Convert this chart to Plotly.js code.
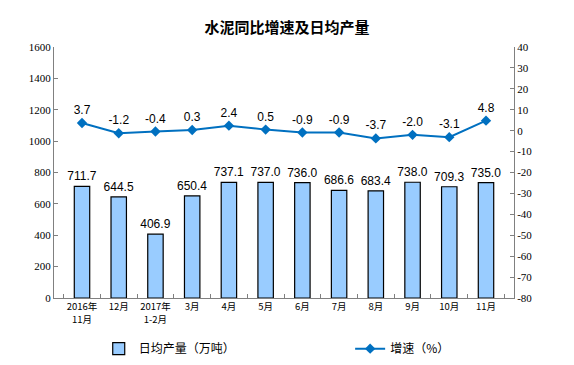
<!DOCTYPE html>
<html><head><meta charset="utf-8">
<script src="https://cdn.plot.ly/plotly-3.0.1.min.js"></script>
<style>body{margin:0;padding:0;background:#fff}#c{width:574px;height:365px}</style>
</head><body><div id="c"></div>
<script>
const categories = ["2016年<br>11月","12月","2017年<br>1-2月","3月","4月","5月","6月","7月","8月","9月","10月","11月"];
const output = [711.7,644.5,406.9,650.4,737.1,737.0,736.0,686.6,683.4,738.0,709.3,735.0];
const growth = [3.7,-1.2,-0.4,0.3,2.4,0.5,-0.9,-0.9,-3.7,-2.0,-3.1,4.8];
const leftTicks = [0,200,400,600,800,1000,1200,1400,1600];
const rightTicks = [-80,-70,-60,-50,-40,-30,-20,-10,0,10,20,30,40];

const bar = {
  type:'bar', x:categories, y:output, name:'日均产量（万吨）',
  marker:{color:'#99CCFF', line:{color:'#000', width:1.2}},
  text:output.map(v=>v.toFixed(1)), textposition:'outside', cliponaxis:false, constraintext:'none',
  textfont:{family:'Liberation Sans, Arial', size:12, color:'#000'},
  legend:'legend'
};
const line = {
  type:'scatter', mode:'lines+markers+text', x:categories, y:growth, yaxis:'y2', name:'增速（%）',
  line:{color:'#0070C0', width:2}, marker:{symbol:'diamond', size:8, color:'#0070C0'},
  text:growth.map(v=>v.toFixed(1)), textposition:'top center', cliponaxis:false,
  textfont:{family:'Liberation Sans, Arial', size:12, color:'#000'},
  legend:'legend2'
};
const tf = {family:'Liberation Serif, Times New Roman', size:11, color:'#000'};
const layout = {
  width:574, height:365, margin:{l:54, r:60, t:47, b:67, autoexpand:false},
  paper_bgcolor:'#fff', plot_bgcolor:'#fff',
  title:{text:'<b>水泥同比增速及日均产量</b>', x:0.5, xanchor:'center', y:0.925, yanchor:'middle',
    font:{family:'Noto Sans CJK SC', size:15, color:'#000'}},
  bargap:0.58,
  xaxis:{type:'category', tickangle:0, tickfont:{family:'Noto Sans CJK SC', size:9.5, color:'#000'},
    showline:true, linecolor:'#808080', linewidth:1, ticks:'inside', tickson:'boundaries', ticklen:4, tickcolor:'#808080',
    showgrid:false, automargin:false},
  yaxis:{range:[0,1600], tickvals:leftTicks, ticktext:leftTicks.map(String), ticks:'inside', ticklen:4, tickcolor:'#808080',
    showline:true, linecolor:'#808080', showgrid:false, zeroline:false, automargin:false, tickfont:tf},
  yaxis2:{range:[-80,40], tickvals:rightTicks, ticktext:rightTicks.map(String), overlaying:'y', side:'right', ticks:'inside', ticklen:4, tickcolor:'#808080',
    showline:true, linecolor:'#808080', showgrid:false, zeroline:false, automargin:false, tickfont:tf},
  legend:{x:0.172, xref:'container', y:0.005, yref:'container', xanchor:'left', yanchor:'bottom', orientation:'h', bgcolor:'rgba(0,0,0,0)',
    font:{family:'Noto Sans CJK SC', size:12, color:'#000'}},
  legend2:{x:0.61, xref:'container', y:0.005, yref:'container', xanchor:'left', yanchor:'bottom', orientation:'h', bgcolor:'rgba(0,0,0,0)',
    font:{family:'Noto Sans CJK SC', size:12, color:'#000'}},
  showlegend:true
};
Plotly.newPlot('c',[bar,line],layout,{displayModeBar:false, staticPlot:true});
</script>
</body></html>
